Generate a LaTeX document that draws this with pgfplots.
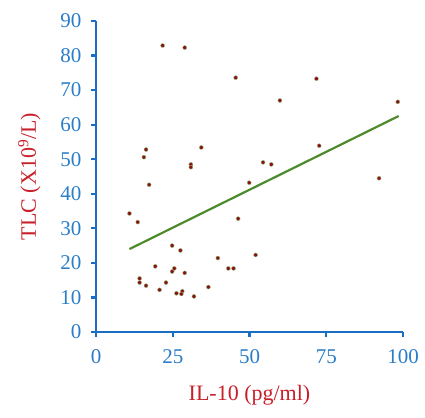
\documentclass[border=0pt]{standalone}
\usepackage{pgfplots}
\pgfplotsset{compat=1.18}
\usepackage{fontspec}
\setmainfont{Liberation Serif}
\definecolor{axblue}{HTML}{1A6FC4}
\definecolor{tickblue}{HTML}{2A7DC9}
\definecolor{labred}{HTML}{C8202A}
\definecolor{trend}{HTML}{4C8A2C}
\definecolor{dotred}{HTML}{8B1010}
\begin{document}
\begin{tikzpicture}
\begin{axis}[
  scale only axis, width=307pt, height=311pt,
  xmin=0, xmax=100, ymin=0, ymax=90,
  xtick={0,25,50,75,100}, ytick={0,10,...,90},
  axis lines=left,
  axis line style={axblue, line width=2.6pt, -},
  tick style={axblue, line width=2.2pt},
  tick align=outside, major tick length=5pt,
  ticklabel style={font=\fontsize{21}{25}\selectfont, text=tickblue},
  xticklabel style={yshift=-9pt},
  yticklabel style={xshift=-6pt},
  /pgf/number format/assume math mode=true,
  xlabel={IL-10 (pg/ml)},
  ylabel={TLC (X10\textsuperscript{9}/L)},
  label style={font=\fontsize{22}{26}\selectfont, text=labred},
  xlabel style={yshift=-15pt},
  ylabel style={yshift=13pt},
  clip=false,
]
\addplot[only marks, mark=*, mark size=2pt, mark options={fill=dotred, draw=trend!60, line width=0.4pt}] coordinates {
(21.7,82.9)(28.9,82.3)(45.5,73.6)(16.3,52.8)(15.6,50.6)(34.3,53.4)(30.9,48.5)(30.9,47.7)
(71.8,73.3)(59.9,67.0)(98.3,66.6)(72.7,53.9)(54.4,49.1)(57.1,48.5)(17.3,42.6)(49.9,43.2)
(10.9,34.3)(13.6,31.8)(46.3,32.8)(24.8,25.0)(27.5,23.6)(52.0,22.3)(39.7,21.4)(19.3,19.0)
(25.5,18.4)(24.8,17.5)(43.1,18.4)(44.8,18.4)(28.9,17.1)(14.2,15.5)(14.2,14.3)(16.3,13.4)
(22.8,14.3)(20.7,12.2)(36.6,13.0)(26.2,11.2)(28.1,11.8)(27.8,11.0)(31.9,10.3)(92.2,44.5)
};
\addplot[trend, line width=2.2pt] coordinates {(10.9,24.0)(98.6,62.5)};
\end{axis}
\pgfresetboundingbox
\path[use as bounding box] ([xshift=-96pt,yshift=-85pt]current axis.south west) rectangle ([xshift=329pt,yshift=332pt]current axis.south west);
\end{tikzpicture}
\end{document}
